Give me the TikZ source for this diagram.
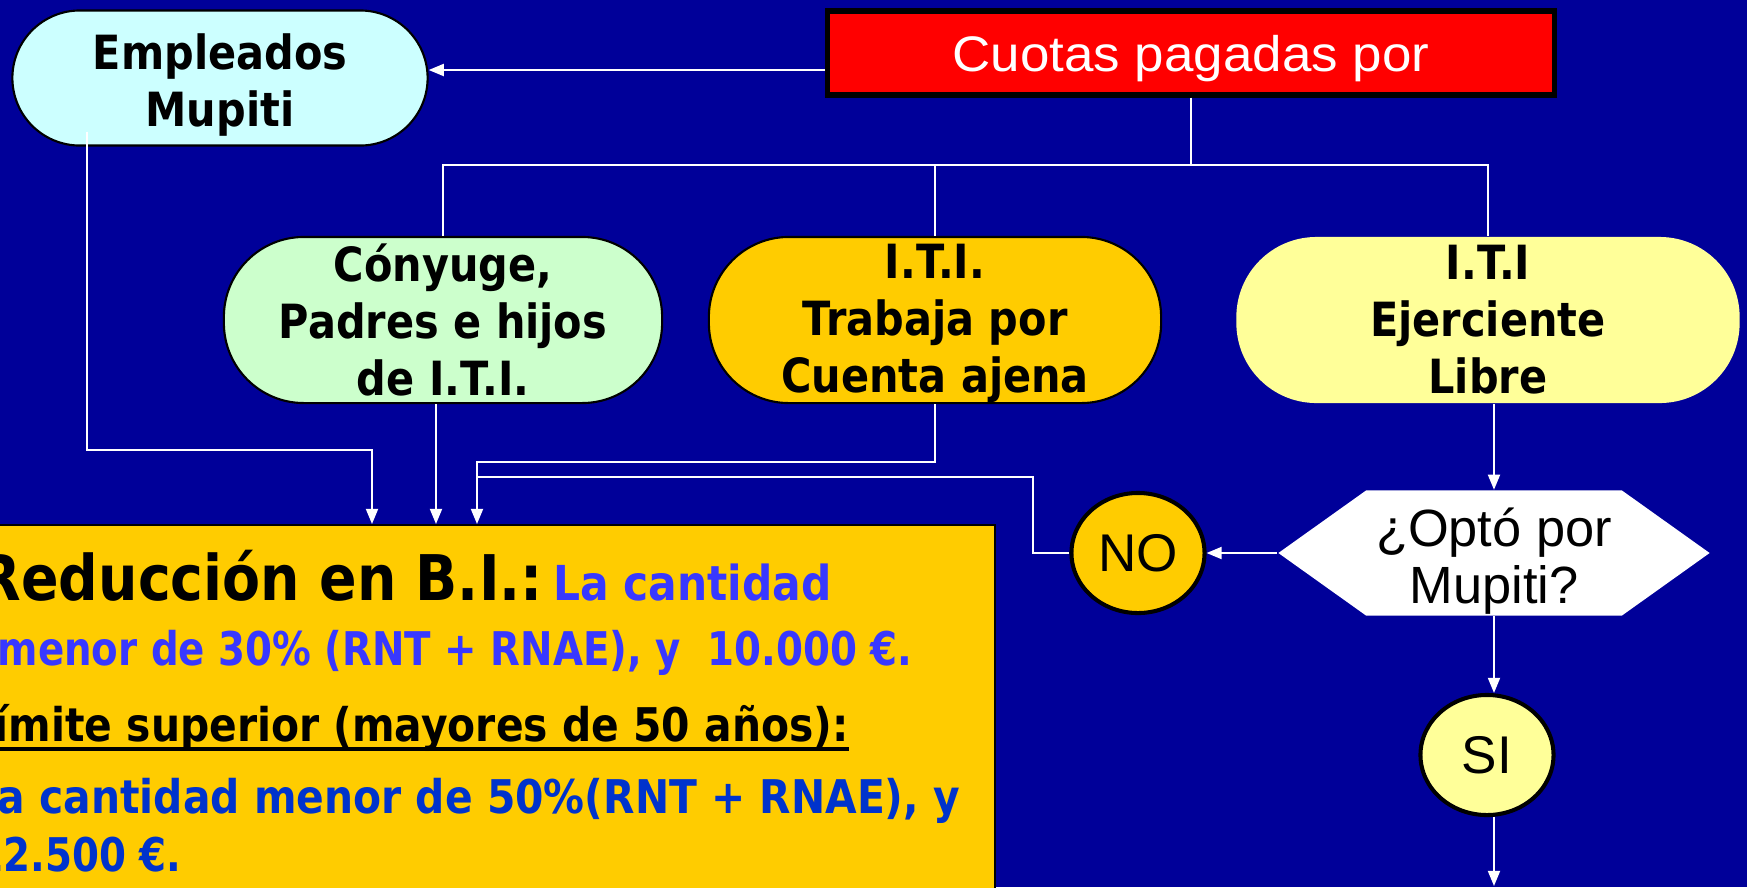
\documentclass[tikz,border=0pt]{standalone}
\usepackage{fontspec}
\setmainfont{Liberation Sans}
\newfontfamily\arialwide[FakeStretch=1.06]{Liberation Sans}
\newfontfamily\tahoma[FakeStretch=0.88]{DejaVu Sans}
\newfontfamily\tahomadigits[FakeStretch=0.835]{DejaVu Sans}
\usetikzlibrary{arrows.meta,calc,shapes.geometric,shapes.symbols}

\definecolor{slide}{HTML}{000099}
\definecolor{cyanfill}{HTML}{CCFFFF}
\definecolor{greenfill}{HTML}{CCFFCC}
\definecolor{gold}{HTML}{FFCC00}
\definecolor{paleyellow}{HTML}{FFFF99}
\definecolor{blueA}{HTML}{3838FF}
\definecolor{blueB}{HTML}{0033CC}

\tikzset{
  flow/.style    = {rectangle, rounded corners=0.8cm, draw=black, line width=0.6pt,
                    minimum height=1.66cm, inner sep=0pt, align=center,
                    font=\tahoma\bfseries\fontsize{13.4}{16.2}\selectfont},
  payer/.style   = {rectangle, draw=black, line width=1.45pt, fill=red, text=white,
                    minimum width=7.26cm, minimum height=0.84cm, inner sep=0pt,
                    text depth=0pt, font=\arialwide\fontsize{14.2}{17}\selectfont},
  ask/.style     = {signal, signal to=east and west, signal pointer angle=71,
                    fill=white, align=center,
                    minimum width=4.31cm, minimum height=1.25cm, inner sep=0pt,
                    font=\fontsize{14.9}{16.2}\selectfont},
  answer/.style  = {ellipse, draw=black, line width=1.15pt, inner sep=0pt,
                    minimum width=1.33cm, minimum height=1.2cm,
                    font=\fontsize{15.1}{18}\selectfont},
  reducbox/.style= {rectangle, draw=black, line width=0.7pt, fill=gold,
                    minimum width=10.03cm, minimum height=3.76cm, inner sep=0pt},
  boxtext/.style = {inner sep=0pt, text=blueA,
                    font=\tahoma\bfseries\fontsize{13.2}{15}\selectfont},
  wire/.style    = {draw=white, line width=0.57pt},
  arr/.style     = {wire, -{Triangle[length=4.3pt, width=3.4pt]}},
}

\begin{document}
\begin{tikzpicture}[x=0.01cm, y=-0.01cm]
  % ------------------------------------------------------------------------
  % Slide
  \useasboundingbox (0, 0) rectangle (1747, 887);
  \fill[slide] (0, 0) rectangle (1747, 887);

  % ------------------------------------------------------------------------
  % Who pays
  \node[payer] at (1191, 53) (cuotas) {Cuotas pagadas por};

  \node[flow, fill=cyanfill, minimum width=4.15cm, minimum height=1.35cm,
        rounded corners=0.675cm] at (220, 78) (emp) {\rule{0pt}{0.5cm}Empleados\\Mupiti};

  \node[flow, fill=greenfill,  minimum width=4.38cm] at ( 443, 320) (fam)   {Cónyuge,\\Padres e hijos\\de I.T.I.};
  \node[flow, fill=gold,       minimum width=4.52cm] at ( 935, 320) (ajena) {\rule{0pt}{0.42cm}I.T.I.\\Trabaja por\\Cuenta ajena};
  \node[flow, fill=paleyellow, minimum width=5.03cm, draw=none] at (1488, 320) (libre) {I.T.I\\Ejerciente\\Libre};

  % ------------------------------------------------------------------------
  % Decision
  \node[ask] at (1494, 553) (opto) {\rule{0pt}{0.55cm}¿Optó por\\Mupiti?};

  \node[answer, fill=gold]       at (1138, 553) (no) {NO};
  \node[answer, fill=paleyellow] at (1487, 755) (si) {SI};

  % ------------------------------------------------------------------------
  % Reduction
  \node[reducbox, anchor=north west] at (-10, 524) (reduc) {};

  \node[boxtext, anchor=base west] at (-22, 600) (r1)
    {{\color{black}\fontsize{17.9}{20}\selectfont Reducción en B.I.:}\hspace{3pt}{\fontsize{13.7}{15}\selectfont La cantidad}};
  \node[boxtext, anchor=base west, font=\tahomadigits\bfseries\fontsize{13.2}{15}\selectfont] at (-3, 665) (r2)
    {menor de 30\% (RNT + RNAE), y\ \ 10.000 €.};
  \node[boxtext, anchor=base west, text=black] at (-32, 741) (r3)
    {Límite superior (mayores de 50 años):};
  \draw[black, line width=1.1pt] ($(r3.base west) + (0, 8)$) -- ($(r3.base east) + (0, 8)$);
  \node[boxtext, anchor=base west, text=blueB] at (-29, 813) (r4)
    {La cantidad menor de 50\%(RNT + RNAE), y};
  \node[boxtext, anchor=base west, text=blueB, font=\tahomadigits\bfseries\fontsize{13.2}{15}\selectfont] at (-24, 871) (r5)
    {12.500 €.};

  % ------------------------------------------------------------------------
  % Connectors
  \coordinate (feed) at ($(cuotas.west) + (0, 17)$);
  \draw[arr] (feed) -- (feed -| emp.east);

  \coordinate (bus) at ($(cuotas.south) + (0, 67)$);
  \draw[wire] (cuotas.south) -- (bus);
  \draw[wire] (fam.north) |- (bus) -| (libre.north);
  \draw[wire] (ajena.north) -- (ajena.north |- bus);

  \coordinate (inA)     at ($(reduc.north west) + (382, 0)$);
  \coordinate (inB)     at ($(reduc.north west) + (446, 0)$);
  \coordinate (inC)     at ($(reduc.north west) + (487, 0)$);
  \coordinate (empfoot) at ($(emp.south) + (-133, -15)$);

  \draw[arr] (empfoot) |- ($(inA) + (0, -74)$) -- (inA);
  \draw[arr] (fam.south -| inB) -- (inB);
  \draw[arr] (ajena.south) |- ($(inC) + (0, -62)$) -- (inC);
  \draw[wire] (no.west) -- ++(-36, 0) |- ($(inC) + (0, -47)$);

  \draw[arr] (libre.south -| opto.north) -- (opto.north);
  \draw[arr] (opto.west) -- (no.east);
  \draw[arr] (opto.south) -- (opto.south |- si.north);

  \coordinate (exit) at (1494, 886);
  \draw[arr] (si.south -| exit) -- (exit);
\end{tikzpicture}
\end{document}
